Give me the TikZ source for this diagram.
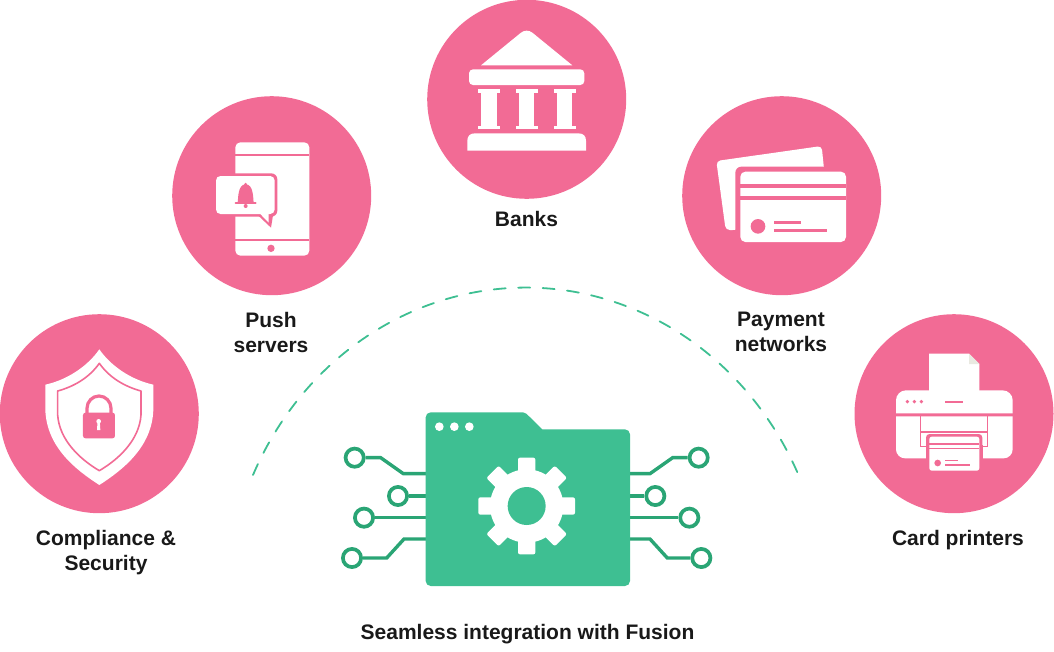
\documentclass[tikz,border=0pt]{standalone}
\usepackage{fontspec}
\setmainfont{Liberation Sans}
\definecolor{pinkc}{HTML}{F26B95}
\definecolor{greenc}{HTML}{3EBF92}
\definecolor{darkg}{HTML}{2AA575}
\definecolor{foldc}{HTML}{E9E9E1}
\tikzset{
  zoomat/.style 2 args={shift={(#1,#2)},x=.33333pt,y=-.33333pt},
  disc/.style={circle,fill=pinkc,inner sep=0pt,minimum size=199pt},
  lab/.style={font=\fontsize{21}{25}\selectfont\bfseries,align=center,text=black!90,inner sep=0pt},
  ring/.style={circle,draw=darkg,line width=3.7pt,fill=white,inner sep=0pt,minimum size=18.2pt},
  trace/.style={draw=darkg,line width=3.4pt,line join=miter}
}
\begin{document}
\begin{tikzpicture}[x=1pt,y=-1pt]
\useasboundingbox (0,0) rectangle (1054,651);
\node[disc] (compliance) at (99.3,413.7) {};
\node[disc] (push) at (271.7,195.7) {};
\node[disc] (banks) at (526.7,99.3) {};
\node[disc] (payment) at (781.7,195.7) {};
\node[disc] (printers) at (954,413.7) {};
% dashed arc
\draw[greenc,line width=1.8pt,line cap=round,dash pattern=on 12pt off 12.5pt] (253,475) arc[start angle=204.6,end angle=335.4,x radius=300,y radius=321];
% shield
\begin{scope}[zoomat={0}{310}]
\fill[white] (298,118) .. controls (262,170) and (200,210) .. (136,224) -- (136,300) .. controls (140,410) and (225,478) .. (298,525) .. controls (371,478) and (456,410) .. (460,300) -- (460,224) .. controls (396,210) and (334,170) .. (298,118) -- cycle;
\draw[pinkc,line width=1.6pt,line join=round] (298,160) .. controls (266,205) and (220,230) .. (173,243) -- (173,315) .. controls (178,390) and (240,448) .. (298,482) .. controls (356,448) and (418,390) .. (423,315) -- (423,243) .. controls (376,230) and (330,205) .. (298,160) -- cycle;
\draw[pinkc,line width=3.2pt] (261,315) -- (261,295) arc[start angle=180,end angle=360,x radius=36,y radius=37] -- (333,315);
\fill[pinkc,rounded corners=2.5pt] (249,308) rectangle (345,385);
\fill[white] (296,334) circle[radius=7];
\fill[white] (292.5,336) -- (299.5,336) -- (301,360) -- (291,360) -- cycle;
\end{scope}
% phone
\begin{scope}[zoomat={170}{95}]
\fill[white,rounded corners=5pt] (196,142) rectangle (418,482);
\draw[pinkc,line width=2.2pt] (196,180) -- (418,180);
\draw[pinkc,line width=2.2pt] (196,436) -- (418,436);
\fill[pinkc] (303,460) circle[radius=11];
\fill[pinkc,rounded corners=6pt] (130,235) rectangle (322,365);
\fill[pinkc] (265,362) -- (303,398) -- (310,355) -- cycle;
\fill[white,rounded corners=4.5pt] (138,243) rectangle (314,357);
\fill[white] (270,356) -- (296,383) -- (296,356) -- cycle;
\fill[pinkc] (203,322) .. controls (205,310) and (203,268) .. (227,268) .. controls (251,268) and (249,310) .. (251,322) -- cycle;
\fill[pinkc] (227,268) circle[radius=5];
\draw[pinkc,line width=2pt,line cap=round] (197,325) -- (257,325);
\fill[pinkc] (227,333) circle[radius=6];
\end{scope}
% bank
\begin{scope}[zoomat={425}{0}]
\fill[white] (168,196) -- (442,196) -- (322,98) .. controls (312,90) and (298,90) .. (288,98) -- cycle;
\fill[white,rounded corners=4pt] (132,208) rectangle (478,255);
\foreach \c in {192,305,419}{
  \fill[white] (\c-33,268) rectangle (\c+33,278);
  \fill[white] (\c-23,275) rectangle (\c+23,382);
  \fill[white] (\c-33,378) rectangle (\c+33,388);
}
\fill[white] (127,452) -- (127,422) .. controls (127,408) and (135,400) .. (150,400) -- (460,400) .. controls (475,400) and (483,408) .. (483,422) -- (483,452) -- cycle;
\end{scope}
% cards
\begin{scope}[zoomat={680}{95}]
\fill[white,rounded corners=4pt] (109,198) -- (425,153) -- (440,300) -- (170,405) -- (137,405) -- cycle;
\fill[pinkc,rounded corners=6pt] (166,215) rectangle (520,460);
\fill[pinkc] (432,214) rectangle (520,300);
\fill[white,rounded corners=5pt] (181,230) rectangle (498,441);
\fill[pinkc] (181,268) rectangle (498,280);
\fill[pinkc] (181,304) rectangle (498,316);
\fill[pinkc] (234,394) circle[radius=22];
\fill[pinkc] (282,377) rectangle (362,386);
\fill[pinkc] (282,403) rectangle (440,412);
\end{scope}
% printer
\begin{scope}[zoomat={850}{310}]
\fill[white] (237,131) -- (357,131) -- (388,162) -- (388,250) -- (237,250) -- cycle;
\fill[foldc] (357,131) -- (388,162) -- (357,162) -- cycle;
\fill[white] (138,310) [rounded corners=10pt] -- (138,241) -- (488,241) [sharp corners] -- (488,310) -- cycle;
\fill[white] (138,319) [rounded corners=9pt] -- (138,445) -- (488,445) [sharp corners] -- (488,319) -- cycle;
\fill[pinkc] (228,405) rectangle (398,446);
\draw[pinkc,line width=1.1pt] (212,319) -- (212,410) -- (228,410);
\draw[pinkc,line width=1.1pt] (413,319) -- (413,410) -- (398,410);
\draw[pinkc,line width=1.6pt] (212,366) -- (413,366);
\fill[pinkc,rounded corners=3.5pt] (228,372) rectangle (397,490);
\fill[white,rounded corners=2.5pt] (238,380) rectangle (388,482);
\fill[pinkc] (238,400) rectangle (388,404);
\fill[pinkc] (238,415) rectangle (388,418);
\fill[pinkc] (263,459) circle[radius=10];
\fill[pinkc] (286,450) rectangle (323,454);
\fill[pinkc] (286,463) rectangle (360,467);
\foreach \c in {172,193,214} \fill[pinkc] (\c,275) circle[radius=5.5];
\fill[pinkc] (286,273) rectangle (340,278);
\end{scope}
% folder and traces
\begin{scope}[zoomat={335}{400}]
\node[ring] (l1) at (59,173) {};
\node[ring] (l2) at (189,288) {};
\node[ring] (l3) at (87,353) {};
\node[ring] (l4) at (51,474) {};
\node[ring] (r1) at (1091,173) {};
\node[ring] (r2) at (961,288) {};
\node[ring] (r3) at (1063,353) {};
\node[ring] (r4) at (1099,474) {};
\coordinate (fl1) at (275,221); \coordinate (fl2) at (275,288); \coordinate (fl3) at (275,353); \coordinate (fl4) at (275,417);
\coordinate (fr1) at (882,221); \coordinate (fr2) at (882,288); \coordinate (fr3) at (882,353); \coordinate (fr4) at (882,417);
\draw[trace] (fl1) -- (205,221) -- (137,173) -- (l1);
\draw[trace] (fl2) -- (l2);
\draw[trace] (fl3) -- (l3);
\draw[trace] (fl4) -- (207,417) -- (155,474) -- (l4);
\draw[trace] (fr1) -- (945,221) -- (1013,173) -- (r1);
\draw[trace] (fr2) -- (r2);
\draw[trace] (fr3) -- (r3);
\draw[trace] (fr4) -- (945,417) -- (997,474) -- (r4);
\fill[greenc,rounded corners=5pt] (272,300) -- (272,37) [rounded corners=2pt] -- (570,37) [sharp corners] -- (622,88) [rounded corners=5pt] -- (885,88) -- (885,558) -- (272,558) -- cycle;
\foreach \c in {313,358,403} \fill[white] (\c,80) circle[radius=13];
\begin{scope}[shift={(575,318)}]
\foreach \a in {0,45,...,315}
  \fill[white,rounded corners=2pt,rotate=\a] (-26,-145) rectangle (26,-90);
\fill[white] (0,0) circle[radius=110];
\fill[greenc] (0,0) circle[radius=57];
\end{scope}
\end{scope}
% labels
\node[lab] (tc) at (106,553) {Compliance \&\\Security};
\node[lab] (tp) at (271,332) {Push\\servers};
\node[lab] (tb) at (526.5,218.5) {Banks};
\node[lab] (tn) at (781,332) {Payment\\networks};
\node[lab] (tr) at (958,540.5) {Card printers};
\node[lab] (ts) at (527.5,634.5) {Seamless integration with Fusion};
\end{tikzpicture}
\end{document}
